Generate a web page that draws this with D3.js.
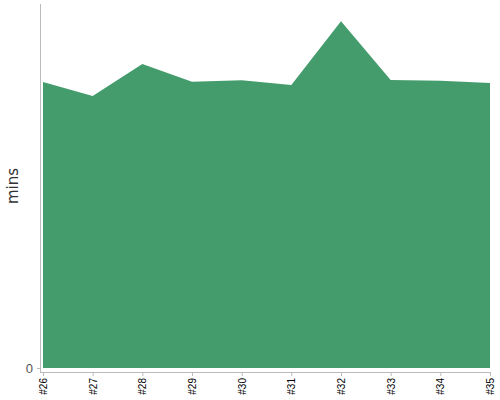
<!DOCTYPE html>
<html>
<head>
<meta charset="utf-8">
<script src="https://cdn.jsdelivr.net/npm/d3@7"></script>
<style>
  body { margin: 0; background: #fff; }
  svg { display: block; font-family: "DejaVu Sans", sans-serif; }
</style>
</head>
<body>
<svg id="chart" width="500" height="400"></svg>
<script>
const builds = ['#26', '#27', '#28', '#29', '#30', '#31', '#32', '#33', '#34', '#35'];
const minutes = [15.71, 14.95, 16.70, 15.73, 15.81, 15.55, 19.05, 15.82, 15.78, 15.66];
const yTicks = [0];

const width = 500;
const height = 400;
const margin = { top: 4, right: 10, bottom: 32, left: 43 };

const svg = d3.select('#chart');

const xScale = d3.scalePoint()
    .domain(builds)
    .range([margin.left, width - margin.right]);

const yScale = d3.scaleLinear()
    .domain([0, 20])
    .range([height - margin.bottom, margin.top]);

const series = builds.map((b, i) => ({ build: b, value: minutes[i] }));

const area = d3.area()
    .x((d) => xScale(d.build))
    .y0(yScale(0))
    .y1((d) => yScale(d.value));

svg.append('path')
    .datum(series)
    .attr('fill', '#449c6c')
    .attr('d', area);

// axes sit a few pixels off the plot
const xAxis = svg.append('g')
    .attr('transform', `translate(0, ${yScale(0) + 4})`)
    .call(d3.axisBottom(xScale).tickSize(4).tickSizeOuter(0));

xAxis.select('.domain').attr('stroke', '#bbb')
    .attr('d', `M${margin.left - 3},0.5H${width - margin.right}`);
xAxis.selectAll('.tick line').attr('stroke', '#bbb');
xAxis.selectAll('.tick text')
    .attr('transform', 'rotate(-90)')
    .attr('text-anchor', 'end')
    .attr('x', -6)
    .attr('y', 0)
    .attr('dy', '0.35em')
    .attr('fill', '#000')
    .style('font-family', '"Liberation Sans", Arial, sans-serif')
    .style('font-size', '10px');

const yAxis = svg.append('g')
    .attr('transform', `translate(${margin.left - 3}, 0)`)
    .call(d3.axisLeft(yScale).tickValues(yTicks).tickSize(3).tickSizeOuter(0));

yAxis.select('.domain').attr('stroke', '#bbb')
    .attr('d', `M0.5,${margin.top}V${yScale(0) + 4}`);
yAxis.selectAll('.tick line').attr('stroke', '#bbb');
yAxis.selectAll('.tick text')
    .attr('fill', '#555')
    .attr('x', -7)
    .style('font-family', '"Liberation Sans", Arial, sans-serif')
    .style('font-size', '13px');

svg.append('text')
    .attr('transform', `translate(18, ${(margin.top + yScale(0)) / 2}) rotate(-90)`)
    .attr('text-anchor', 'middle')
    .attr('fill', '#333')
    .style('font-size', '15px')
    .text('mins');
</script>
</body>
</html>
